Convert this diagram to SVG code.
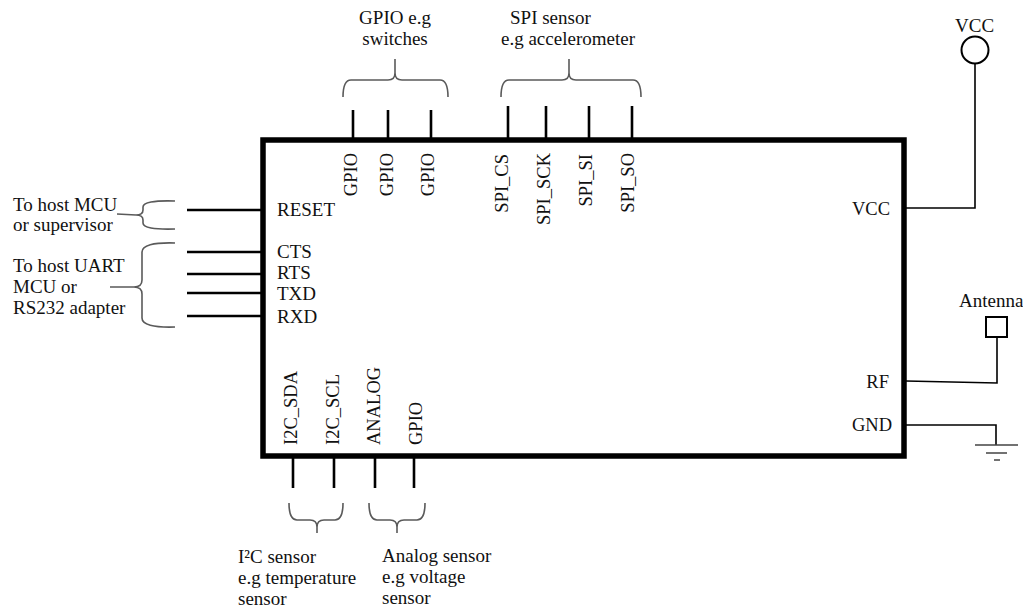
<svg xmlns="http://www.w3.org/2000/svg" width="1023" height="609" viewBox="0 0 1023 609">
<style>
text{font-family:"Liberation Serif","Times New Roman",serif;font-size:19px;fill:#111}
.pin{stroke:#000;stroke-width:2.6;fill:none}
.wire{stroke:#000;stroke-width:1.6;fill:none}
.brace{stroke:#5a5a5a;stroke-width:1.6;fill:none}
.gnd{stroke:#444;stroke-width:1.6;fill:none}
.vt{text-anchor:end;font-size:18.5px}
.vb{text-anchor:start;font-size:18.5px}
.r{text-anchor:end;font-size:18.5px}
</style>
<rect width="1023" height="609" fill="#fff"/>

<g id="module">
<rect x="263" y="140" width="641" height="316" fill="#fff" stroke="#000" stroke-width="5.5"/>
<text x="277" y="216">RESET</text>
<text x="277" y="258">CTS</text>
<text x="277" y="279">RTS</text>
<text x="277" y="300">TXD</text>
<text x="277" y="323">RXD</text>
<text class="r" x="890" y="215">VCC</text>
<text class="r" x="889" y="388">RF</text>
<text class="r" x="892" y="431">GND</text>
<text class="vt" transform="translate(357,153) rotate(-90)">GPIO</text>
<text class="vt" transform="translate(393,153) rotate(-90)">GPIO</text>
<text class="vt" transform="translate(434,153) rotate(-90)">GPIO</text>
<text class="vt" transform="translate(508,154) rotate(-90)">SPI_CS</text>
<text class="vt" transform="translate(550,153) rotate(-90)">SPI_SCK</text>
<text class="vt" transform="translate(592,154) rotate(-90)">SPI_SI</text>
<text class="vt" transform="translate(634,153) rotate(-90)">SPI_SO</text>
<text class="vb" transform="translate(297,445) rotate(-90)">I2C_SDA</text>
<text class="vb" transform="translate(339,445) rotate(-90)">I2C_SCL</text>
<text class="vb" transform="translate(380,445) rotate(-90)">ANALOG</text>
<text class="vb" transform="translate(422,445) rotate(-90)">GPIO</text>
</g>

<g id="connectors">
<path class="pin" d="M187,210H262M187,252H262M187,274H262M187,293H262M187,316H262"/>
<path class="pin" d="M353,110V140M388,110V140M431,110V140M508,106V140M546,106V140M589,106V140M632,106V140"/>
<path class="pin" d="M293,456V488M334,456V488M375,456V488M414,456V488"/>
<path class="wire" d="M906,208H975V64"/>
<path class="wire" d="M906,381L997,383V337"/>
<path class="wire" d="M906,425H996V445"/>
</g>

<g id="vcc-source">
<circle cx="975" cy="50" r="13.5" fill="#fff" stroke="#000" stroke-width="2"/>
<text x="955" y="32" font-size="18.5">VCC</text>
</g>

<g id="antenna">
<rect x="986" y="317" width="21" height="20" fill="#fff" stroke="#000" stroke-width="2"/>
<text x="959" y="307" font-size="18">Antenna</text>
</g>

<g id="ground">
<path class="gnd" d="M975,445H1018M986,453H1007M994,460H1000"/>
</g>

<g id="host-mcu">
<path class="brace" d="M175,201Q143,200 143,207V210Q143,215 136,215Q143,215 143,220V223Q143,230 175,229M136,215L117,214"/>
<text x="13" y="211">To host MCU</text>
<text x="13" y="231">or supervisor</text>
</g>

<g id="host-uart">
<path class="brace" d="M175,243Q142,242 142,252V280Q142,287 134,287Q142,287 142,294V318Q142,328 175,327M134,287L110,287"/>
<text x="13" y="272">To host UART</text>
<text x="13" y="293">MCU or</text>
<text x="13" y="314">RS232 adapter</text>
</g>

<g id="gpio-switches">
<path class="brace" d="M343,97Q343,80 351,80H388Q395,80 395,73Q395,80 402,80H440Q448,80 448,97M395,73V59"/>
<text text-anchor="middle" x="395" y="24">GPIO e.g</text>
<text text-anchor="middle" x="395" y="45">switches</text>
</g>

<g id="spi-sensor">
<path class="brace" d="M501,97Q501,80 509,80H562Q569,80 569,73Q569,80 576,80H633Q641,80 641,97M569,73V59"/>
<text x="510" y="24">SPI sensor</text>
<text x="501" y="45">e.g accelerometer</text>
</g>

<g id="i2c-sensor">
<path class="brace" d="M289,503Q289,520 297,520H310Q317,520 317,527Q317,520 324,520H335Q343,520 343,503M317,527V533"/>
<text x="238" y="563">I²C sensor</text>
<text x="238" y="584">e.g temperature</text>
<text x="238" y="605">sensor</text>
</g>

<g id="analog-sensor">
<path class="brace" d="M369,503Q369,520 377,520H390Q397,520 397,527Q397,520 404,520H417Q425,520 425,503M397,527V533"/>
<text x="382" y="562">Analog sensor</text>
<text x="382" y="583">e.g voltage</text>
<text x="382" y="604">sensor</text>
</g>
</svg>
